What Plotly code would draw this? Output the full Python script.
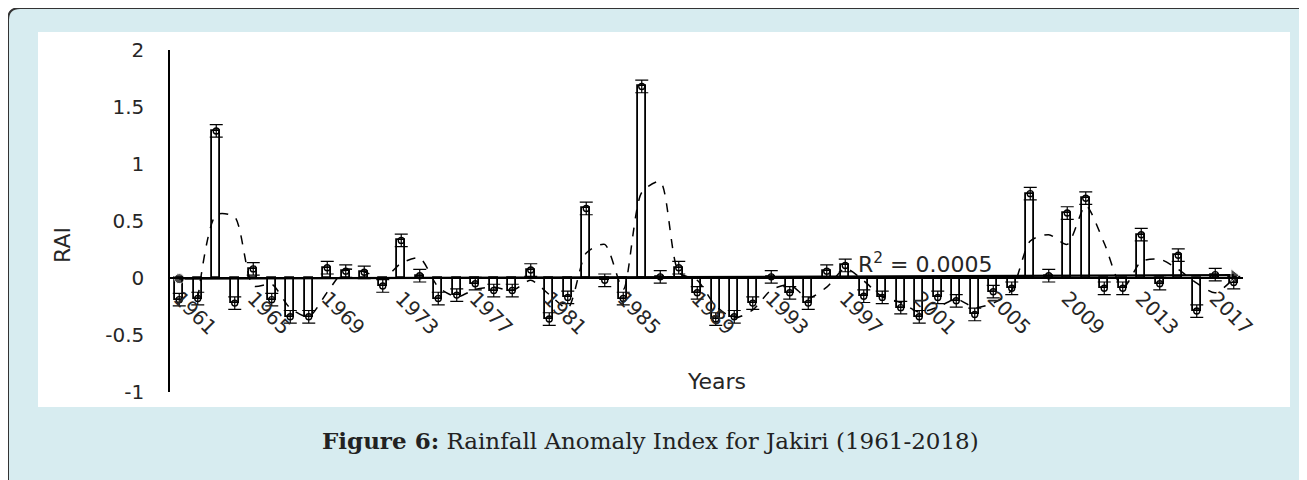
import numpy as np
import pandas as pd
import plotly.graph_objects as go

years = list(range(1961, 2019))
rai = [-0.19, -0.18, 1.29, -0.22, 0.08, -0.19, -0.34, -0.34, 0.09, 0.06,
       0.05, -0.07, 0.33, 0.02, -0.18, -0.15, -0.05, -0.11, -0.11, 0.07,
       -0.36, -0.17, 0.61, -0.02, -0.18, 1.68, 0.01, 0.09, -0.13, -0.36,
       -0.34, -0.22, 0.01, -0.13, -0.22, 0.06, 0.11, -0.16, -0.17, -0.26,
       -0.34, -0.17, -0.20, -0.32, -0.12, -0.09, 0.74, 0.02, 0.57, 0.70,
       -0.09, -0.09, 0.38, -0.05, 0.20, -0.29, 0.03, -0.04]
err = 0.055
tick_years = list(range(1961, 2019, 4))
y_ticks = [-1, -0.5, 0, 0.5, 1, 1.5, 2]
y_ticktext = ["-1", "-0.5", "0", "0.5", "1", "1.5", "2"]
r2_text = "R<sup>2</sup> = 0.0005"
caption = "<b>Figure 6:</b> Rainfall Anomaly Index for Jakiri (1961-2018)"

ma = pd.Series(rai).rolling(2).mean().tolist()
coef = np.polyfit(years, rai, 1)
trend = np.polyval(coef, years).tolist()

# page has an 8px body margin; work in page pixel coordinates
OFF = 8
W, H = 1307 - OFF, 480 - OFF
L, R, T, B = 170, 1243, 50, 392
def px(x): return (x - L) / (R - L)
def py(y): return (B - y) / (B - T)

fig = go.Figure()
fig.add_trace(go.Bar(x=years, y=rai, width=0.45,
                     marker=dict(color="white", line=dict(color="black", width=1.8)),
                     showlegend=False, hoverinfo="skip"))
fig.add_trace(go.Scatter(x=years, y=ma, mode="lines",
                         line=dict(color="black", width=1.5, dash="dash",
                                   shape="spline", smoothing=0.7),
                         showlegend=False, hoverinfo="skip"))
fig.add_trace(go.Scatter(x=years, y=rai, mode="markers",
                         marker=dict(symbol="circle-open", size=6, color="black",
                                     line=dict(width=1.4, color="black")),
                         error_y=dict(type="constant", value=err, color="black",
                                      thickness=1.2, width=6.5),
                         showlegend=False, hoverinfo="skip"))
n = len(years)
sizes = [10] + [0] * (n - 2) + [11]
symbols = ["circle"] + ["circle"] * (n - 2) + ["triangle-right"]
fig.add_trace(go.Scatter(x=years, y=trend, mode="lines+markers",
                         line=dict(color="black", width=2.2),
                         marker=dict(size=sizes, symbol=symbols, color="black"),
                         showlegend=False, hoverinfo="skip"))

blue = "#d7ecf0"
rad = 12
path = (f"M {px(8)} {py(520)} L {px(8)} {py(8+rad)} "
        f"Q {px(8)} {py(8)} {px(8+rad)} {py(8)} "
        f"L {px(1340)} {py(8)} L {px(1340)} {py(520)} Z")
shapes = [
    dict(type="path", xref="paper", yref="paper", path=path,
         fillcolor=blue, line=dict(color="#333333", width=2), layer="below"),
    dict(type="rect", xref="paper", yref="paper", x0=px(38), x1=px(1290),
         y0=py(407), y1=py(32), fillcolor="white", line=dict(width=0), layer="below"),
]

font_ax = dict(family="DejaVu Sans", size=20, color="#262626")
annotations = [
    dict(text="RAI", xref="paper", yref="paper", x=px(62), y=py(245), showarrow=False,
         textangle=-90, font=dict(family="DejaVu Sans", size=22, color="#262626"),
         xanchor="center", yanchor="middle"),
    dict(text="Years", xref="paper", yref="paper", x=px(716), y=py(381), showarrow=False,
         font=dict(family="DejaVu Sans", size=22, color="#262626"),
         xanchor="center", yanchor="middle"),
    dict(text=r2_text, xref="paper", yref="paper", x=px(925), y=py(263), showarrow=False,
         font=dict(family="DejaVu Sans", size=22, color="#262626"),
         xanchor="center", yanchor="middle"),
    dict(text=caption, xref="paper", yref="paper", x=px(650), y=py(440), showarrow=False,
         font=dict(family="DejaVu Serif", size=23, color="#222222"),
         xanchor="center", yanchor="middle"),
]

fig.update_layout(
    width=W, height=H,
    margin=dict(l=L - OFF, r=1307 - R, t=T - OFF, b=480 - B, autoexpand=False),
    paper_bgcolor="white", plot_bgcolor="rgba(0,0,0,0)",
    shapes=shapes, annotations=annotations, bargap=0,
    xaxis=dict(range=[1960.5, 2018.5], tickmode="array", tickvals=tick_years,
               ticktext=[str(t) for t in tick_years], tickangle=45,
               anchor="free", position=1/3, showline=True, linecolor="black",
               linewidth=2, ticks="", showgrid=False, zeroline=False,
               tickfont=font_ax),
    yaxis=dict(range=[-1, 2], tickmode="array", tickvals=y_ticks, ticktext=y_ticktext,
               showline=True, linecolor="black",
               linewidth=1.5, ticks="outside", ticklen=20,
               tickcolor="rgba(0,0,0,0)", showgrid=False, zeroline=False,
               tickfont=font_ax),
)
fig.write_html("out.html")
